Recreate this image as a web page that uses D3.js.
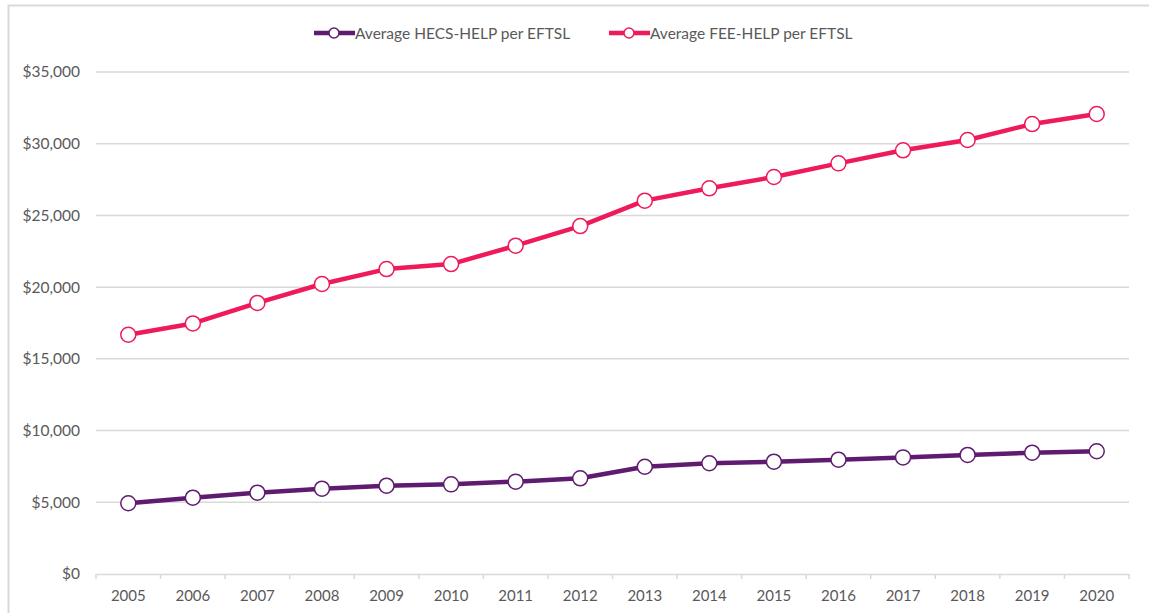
<!DOCTYPE html>
<html>
<head>
<meta charset="utf-8">
<script src="https://cdn.jsdelivr.net/npm/d3@7"></script>
<style>
  body { margin: 0; background: #fff; }
  text { font-family: Lato, "Open Sans", sans-serif; fill: #595959; }
</style>
</head>
<body>
<script>
// chart data
const years = ["2005","2006","2007","2008","2009","2010","2011","2012","2013","2014","2015","2016","2017","2018","2019","2020"];
const hecsHelp = [4930, 5320, 5670, 5950, 6160, 6250, 6440, 6670, 7480, 7720, 7830, 7970, 8130, 8300, 8460, 8560];
const feeHelp = [16680, 17470, 18900, 20220, 21260, 21610, 22890, 24260, 26030, 26890, 27680, 28630, 29540, 30260, 31370, 32070];
const yTicks = [0, 5000, 10000, 15000, 20000, 25000, 30000, 35000];
const seriesNames = ["Average HECS-HELP per EFTSL", "Average FEE-HELP per EFTSL"];

const W = 1149, H = 613;
const colors = ["#5f1b6f", "#ee1a5a"];
const series = [hecsHelp, feeHelp];

const svg = d3.select("body").append("svg")
    .attr("width", W)
    .attr("height", H);

// outer frame
svg.append("rect")
    .attr("x", 8.5).attr("y", 5.5)
    .attr("width", W + 20).attr("height", H + 20)
    .attr("fill", "none")
    .attr("stroke", "#d9d9d9")
    .attr("stroke-width", 2);

const plotLeft = 96, plotRight = 1129, plotTop = 72, plotBottom = 574;

const x = d3.scaleBand().domain(years).range([plotLeft, plotRight]);
const y = d3.scaleLinear().domain([0, 35000]).range([plotBottom, plotTop]);

// gridlines
svg.append("g")
    .selectAll("line")
    .data(yTicks.filter(d => d > 0))
    .join("line")
    .attr("x1", plotLeft).attr("x2", plotRight)
    .attr("y1", d => y(d)).attr("y2", d => y(d))
    .attr("stroke", "#d9d9d9")
    .attr("stroke-width", 1.5);

// y axis labels
const fmt = d3.format("$,");
const yAxis = d3.axisLeft(y).tickValues(yTicks).tickSize(0).tickPadding(16).tickFormat(d => fmt(d));
const gy = svg.append("g").attr("transform", `translate(${plotLeft},0)`).call(yAxis);
gy.select(".domain").remove();
gy.selectAll("text").style("font-size", "15.5px").style("fill", "#595959");

// x axis
const xAxis = d3.axisBottom(x).tickSize(0).tickPadding(16);
const gx = svg.append("g").attr("transform", `translate(0,${plotBottom})`).call(xAxis);
gx.select(".domain").attr("stroke", "#d9d9d9").attr("stroke-width", 1.5);
gx.selectAll("text").style("font-size", "15px").style("fill", "#595959");

// tick marks at band boundaries
const bounds = years.map(d => x(d)).concat([plotRight]);
svg.append("g")
    .selectAll("line")
    .data(bounds)
    .join("line")
    .attr("x1", d => d).attr("x2", d => d)
    .attr("y1", plotBottom).attr("y2", plotBottom + 5)
    .attr("stroke", "#d9d9d9")
    .attr("stroke-width", 1.5);

const cx = d => x(d) + x.bandwidth() / 2;

const line = d3.line()
    .x((d, i) => cx(years[i]))
    .y(d => y(d));

series.forEach((vals, si) => {
    svg.append("path")
        .datum(vals)
        .attr("d", line)
        .attr("fill", "none")
        .attr("stroke", colors[si])
        .attr("stroke-width", 4.5)
        .attr("stroke-linejoin", "round");

    svg.append("g")
        .selectAll("circle")
        .data(vals)
        .join("circle")
        .attr("cx", (d, i) => cx(years[i]))
        .attr("cy", d => y(d))
        .attr("r", 7.5)
        .attr("fill", "#fff")
        .attr("stroke", colors[si])
        .attr("stroke-width", 1.5);
});

// legend
const legendX = [314, 609];
const legend = svg.append("g");
seriesNames.forEach((name, i) => {
    const g = legend.append("g").attr("transform", `translate(${legendX[i]},33)`);
    g.append("line")
        .attr("x1", 0).attr("x2", 41)
        .attr("stroke", colors[i])
        .attr("stroke-width", 4.5);
    g.append("circle")
        .attr("cx", 20).attr("cy", 0).attr("r", 5)
        .attr("fill", "#fff")
        .attr("stroke", colors[i])
        .attr("stroke-width", 1.5);
    g.append("text")
        .attr("x", 41).attr("y", 5.5)
        .style("font-size", "15.5px")
        .text(name);
});
</script>
</body>
</html>
